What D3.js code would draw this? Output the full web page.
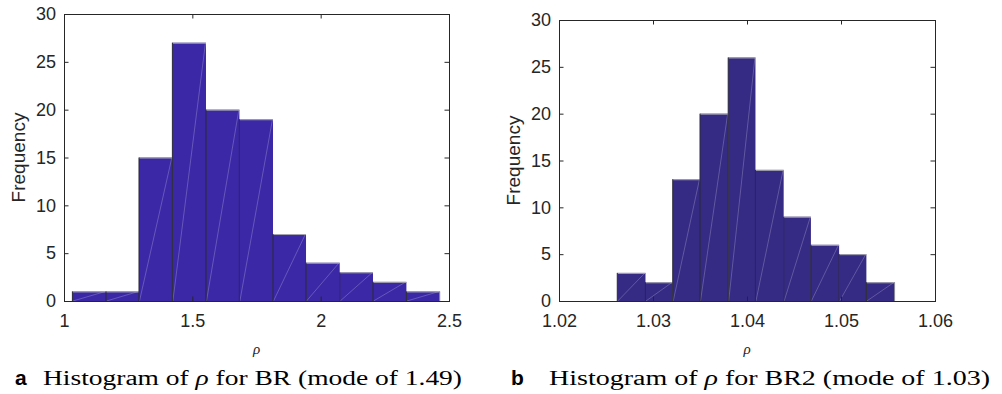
<!DOCTYPE html>
<html>
<head>
<meta charset="utf-8">
<script src="https://cdn.jsdelivr.net/npm/d3@7/dist/d3.min.js"></script>
<style>
  html, body { margin: 0; padding: 0; background: #fff; }
  svg { display: block; }
</style>
</head>
<body>
<svg id="chart" width="1002" height="394"></svg>
<script>
// Histogram bin edges and counts for the two estimators
const brEdges  = [1.0327, 1.1636, 1.2922, 1.4223, 1.5532, 1.6834, 1.8143, 1.9429, 2.0742, 2.2039, 2.3340, 2.4638];
const brCounts = [1, 1, 15, 27, 20, 19, 7, 4, 3, 2, 1];

const br2Edges  = [1.0262, 1.0292, 1.0321, 1.0350, 1.0380, 1.0409, 1.0439, 1.0468, 1.0498, 1.0527, 1.0557];
const br2Counts = [3, 2, 13, 20, 26, 14, 9, 6, 5, 2];

const brXTicks  = [1, 1.5, 2, 2.5];
const br2XTicks = [1.02, 1.03, 1.04, 1.05, 1.06];
const yTicks    = [0, 5, 10, 15, 20, 25, 30];

const svg = d3.select("#chart");
svg.append("rect").attr("width", 1002).attr("height", 394).attr("fill", "#fff");

const axisColor = "#262626";
const sans = "'Liberation Sans', Arial, Helvetica, sans-serif";
const serif = "'Liberation Serif', 'Times New Roman', serif";

function panel(opts) {
  const { left, right, top, bottom, xDomain, xTicks, edges, counts, fill, fmt } = opts;
  const x = d3.scaleLinear().domain(xDomain).range([left, right]);
  const y = d3.scaleLinear().domain([0, 30]).range([bottom, top]);
  const g = svg.append("g");

  const bins = counts.map((c, i) => ({ x0: edges[i], x1: edges[i + 1], n: c }));

  // bars
  g.selectAll("rect.bar").data(bins).join("rect")
    .attr("class", "bar")
    .attr("x", d => x(d.x0))
    .attr("y", d => y(d.n))
    .attr("width", d => x(d.x1) - x(d.x0))
    .attr("height", d => y(0) - y(d.n))
    .attr("fill", fill);

  // faint tessellation diagonals inside each bar
  g.selectAll("line.diag").data(bins).join("line")
    .attr("x1", d => x(d.x0) + 0.5).attr("y1", y(0))
    .attr("x2", d => x(d.x1) - 0.5).attr("y2", d => y(d.n))
    .attr("stroke", "#ffffff").attr("stroke-opacity", 0.28).attr("stroke-width", 0.8);

  // bar top edges (light) and side edges (dark)
  g.selectAll("line.top").data(bins).join("line")
    .attr("x1", d => x(d.x0)).attr("x2", d => x(d.x1))
    .attr("y1", d => y(d.n) + 0.5).attr("y2", d => y(d.n) + 0.5)
    .attr("stroke", "#a8a8b0").attr("stroke-width", 1);
  g.selectAll("line.side").data(bins).join("line")
    .attr("x1", d => x(d.x0)).attr("x2", d => x(d.x0))
    .attr("y1", d => y(d.n)).attr("y2", y(0))
    .attr("stroke", "#2a2a35").attr("stroke-width", 1);
  const last = bins[bins.length - 1];
  g.append("line")
    .attr("x1", x(last.x1)).attr("x2", x(last.x1))
    .attr("y1", y(last.n)).attr("y2", y(0))
    .attr("stroke", "#8a8a95").attr("stroke-width", 1);

  // axes with inward ticks on all four sides
  const tk = 4.5;
  const axB = d3.axisBottom(x).tickValues(xTicks).tickSize(-tk).tickPadding(13).tickFormat(fmt);
  const axT = d3.axisTop(x).tickValues(xTicks).tickSize(-tk).tickFormat("");
  const axL = d3.axisLeft(y).tickValues(yTicks).tickSize(-tk).tickPadding(8);
  const axR = d3.axisRight(y).tickValues(yTicks).tickSize(-tk).tickFormat("");

  const styleAxis = sel => {
    sel.select(".domain").remove();
    sel.selectAll(".tick line").attr("stroke", axisColor);
    sel.selectAll(".tick text").attr("fill", axisColor)
      .style("font-family", sans).style("font-size", "18px");
  };
  g.append("g").attr("transform", `translate(0,${bottom})`).call(axB).call(styleAxis);
  g.append("g").attr("transform", `translate(0,${top})`).call(axT).call(styleAxis);
  g.append("g").attr("transform", `translate(${left},0)`).call(axL).call(styleAxis);
  g.append("g").attr("transform", `translate(${right},0)`).call(axR).call(styleAxis);

  // plot box
  g.append("rect")
    .attr("x", left + 0.5).attr("y", top + 0.5)
    .attr("width", right - left).attr("height", bottom - top)
    .attr("fill", "none").attr("stroke", axisColor).attr("stroke-width", 1);

  // axis titles
  g.append("text")
    .attr("transform", `translate(${opts.yLabelX},${(top + bottom) / 2}) rotate(-90)`)
    .attr("text-anchor", "middle")
    .attr("fill", axisColor)
    .style("font-family", sans).style("font-size", "19px")
    .text("Frequency");
  g.append("text")
    .attr("x", (left + right) / 2).attr("y", 354)
    .attr("text-anchor", "middle")
    .attr("fill", axisColor)
    .style("font-family", serif).style("font-style", "italic").style("font-size", "15px")
    .text("ρ");
}

panel({
  left: 64, right: 449, top: 14, bottom: 301,
  xDomain: [1, 2.5], xTicks: brXTicks, edges: brEdges, counts: brCounts,
  fill: "#3b28a6", fmt: d3.format("~g"), yLabelX: 25
});
panel({
  left: 559, right: 935, top: 20, bottom: 301,
  xDomain: [1.02, 1.06], xTicks: br2XTicks, edges: br2Edges, counts: br2Counts,
  fill: "#352a84", fmt: d3.format(".2f"), yLabelX: 520
});

// sub-figure captions
function caption(letter, lx, tx, tEnd, parts) {
  svg.append("text")
    .attr("x", lx).attr("y", 385)
    .style("font-family", sans).style("font-weight", "bold").style("font-size", "21px")
    .attr("fill", "#000")
    .text(letter);
  const t = svg.append("text")
    .attr("x", tx).attr("y", 385)
    .attr("textLength", tEnd - tx).attr("lengthAdjust", "spacingAndGlyphs")
    .style("font-family", serif).style("font-size", "20px")
    .attr("fill", "#000");
  parts.forEach(p => {
    t.append("tspan").style("font-style", p.italic ? "italic" : "normal").text(p.s);
  });
}
caption("a", 15, 43, 462, [{ s: "Histogram of " }, { s: "ρ", italic: true }, { s: " for BR (mode of 1.49)" }]);
caption("b", 511, 549, 990, [{ s: "Histogram of " }, { s: "ρ", italic: true }, { s: " for BR2 (mode of 1.03)" }]);
</script>
</body>
</html>
